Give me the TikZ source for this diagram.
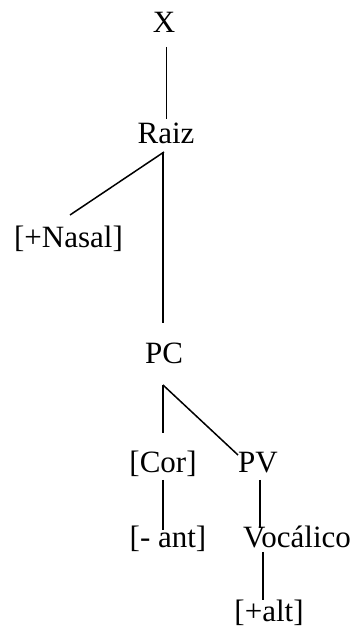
\documentclass[tikz,border=0pt]{standalone}
\usepackage{fontspec}
\setmainfont{Liberation Serif}
\usetikzlibrary{calc}
\begin{document}
\begin{tikzpicture}[x=1pt,y=1pt,
  lbl/.style={anchor=base,inner sep=0pt,font=\fontsize{31}{37}\selectfont},
  edge/.style={line width=1.5pt}]
\useasboundingbox (0,0) rectangle (358,629);
\node[lbl] (X) at (164,596) {X};
\node[lbl] (Raiz) at (166,485) {Raiz};
\node[lbl] (Nasal) at (68.5,381) {[+Nasal]};
\node[lbl] (PC) at (164,265) {PC};
\node[lbl] (Cor) at (163,156) {[Cor]};
\node[lbl] (PV) at (258,156) {PV};
\node[lbl] (ant) at (168,81) {[- ant]};
\node[lbl] (Voc) at (297,81) {Vocálico};
\node[lbl] (alt) at (269,7) {[+alt]};
\draw[edge] ($(X.base)+(2.7,-14)$) -- ($(Raiz.base)+(0.7,25)$);
\draw[edge] ($(Raiz.base)+(-2,-8)$) -- ($(Nasal.base)+(1.5,33)$);
\draw[edge] ($(Raiz.base)+(-3,-8)$) -- ($(PC.base)+(-1,41)$);
\draw[edge] ($(PC.base)+(-1,-21)$) -- ($(Cor.base)+(0,40)$);
\draw[edge] ($(PC.base)+(-1,-21)$) -- ($(PV.base)+(-20,18)$);
\draw[edge] ($(Cor.base)+(0,-7)$) -- ($(ant.base)+(-5,18)$);
\draw[edge] ($(PV.base)+(2,-7)$) -- ($(Voc.base)+(-37,20)$);
\draw[edge] ($(Voc.base)+(-34,-4)$) -- ($(alt.base)+(-6,22)$);
\end{tikzpicture}
\end{document}
